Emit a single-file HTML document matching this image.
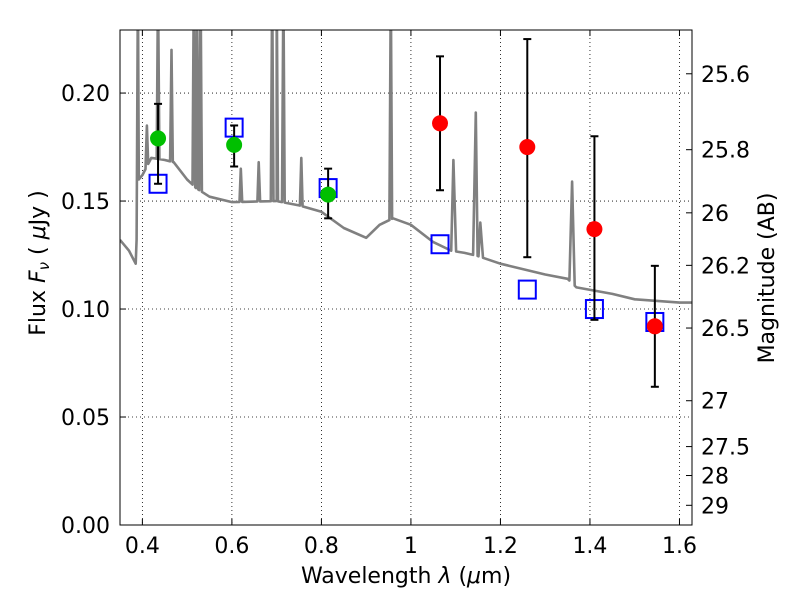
<!DOCTYPE html>
<html><head><meta charset="utf-8"><style>
body{margin:0;background:#fff;font-family:"Liberation Sans","DejaVu Sans",sans-serif}
svg text{font-family:"DejaVu Sans","Liberation Sans",sans-serif;font-size:22px;fill:#000}
</style></head><body>
<svg id="chart" width="800" height="600" xmlns="http://www.w3.org/2000/svg">
<defs><clipPath id="clip"><rect x="120" y="30" width="572" height="495"/></clipPath></defs>
<g id="grid"></g>
<g id="spec" clip-path="url(#clip)"></g>
<g id="marks" clip-path="url(#clip)"></g>
<rect x="120" y="30" width="572" height="495" fill="none" stroke="#000" stroke-width="1"/>
<g id="axes"></g>
<text x="406" y="583" text-anchor="middle">Wavelength  <tspan font-style="italic">λ</tspan> (<tspan font-style="italic">μ</tspan>m)</text>
<text transform="translate(45,263) rotate(-90)" text-anchor="middle">Flux  <tspan font-style="italic">F</tspan><tspan font-style="italic" font-size="15" dy="4">ν</tspan><tspan dy="-4">  (  </tspan><tspan font-style="italic">μ</tspan>Jy )</text>
<text transform="translate(774,278) rotate(-90)" text-anchor="middle">Magnitude (AB)</text>
</svg>
<script>
const xTicks=[0.4,0.6,0.8,1.0,1.2,1.4,1.6];
const xTickLabels=["0.4","0.6","0.8","1","1.2","1.4","1.6"];
const yTicks=[0,0.05,0.10,0.15,0.20];
const yTickLabels=["0.00","0.05","0.10","0.15","0.20"];
const magTicks=[25.6,25.8,26,26.2,26.5,27,27.5,28,29];
const magLabels=["25.6","25.8","26","26.2","26.5","27","27.5","28","29"];
const contX=[0.35,0.37,0.385,0.392,0.40,0.42,0.45,0.47,0.50,0.52,0.55,0.60,0.70,0.75,0.80,0.85,0.90,0.93,0.96,1.00,1.05,1.09,1.12,1.15,1.20,1.30,1.35,1.37,1.45,1.50,1.60,1.63];
const contY=[0.132,0.127,0.121,0.160,0.162,0.170,0.169,0.168,0.160,0.156,0.152,0.1495,0.150,0.148,0.145,0.1375,0.133,0.139,0.142,0.139,0.131,0.127,0.126,0.1245,0.121,0.116,0.114,0.110,0.107,0.1045,0.103,0.103];
const lineX=[0.39,0.41,0.435,0.465,0.515,0.522,0.53,0.62,0.66,0.69,0.70,0.715,0.755,0.955,1.095,1.145,1.155,1.36];
const linePeak=[0.25,0.185,0.25,0.22,0.25,0.25,0.25,0.165,0.168,0.25,0.25,0.25,0.17,0.25,0.169,0.191,0.14,0.159];
const greenX=[0.435,0.605,0.815];
const greenY=[0.179,0.176,0.153];
const greenLo=[0.158,0.166,0.142];
const greenHi=[0.195,0.185,0.165];
const redX=[1.065,1.26,1.41,1.545];
const redY=[0.186,0.175,0.137,0.092];
const redLo=[0.155,0.124,0.095,0.064];
const redHi=[0.217,0.225,0.180,0.120];
const modelX=[0.435,0.605,0.815,1.065,1.26,1.41,1.545];
const modelY=[0.158,0.184,0.156,0.130,0.109,0.100,0.094];

const X0=120,X1=692,Y0=525,Y1=30,xmin=0.35,xmax=1.628,ymin=0,ymax=0.2292;
const sx=v=>X0+(v-xmin)/(xmax-xmin)*(X1-X0);
const sy=v=>Y0-(v-ymin)/(ymax-ymin)*(Y0-Y1);
const ns="http://www.w3.org/2000/svg";
function mk(tag,parent,attrs){const e=document.createElementNS(ns,tag);for(const k in attrs)e.setAttribute(k,attrs[k]);document.getElementById(parent).appendChild(e);return e;}
xTicks.forEach((t,i)=>{const x=sx(t);
 let g=mk('line','grid',{x1:x,x2:x,y1:Y1,y2:Y0,stroke:'#000','stroke-dasharray':'1,3','stroke-width':0.8});
 
 mk('line','axes',{x1:x,x2:x,y1:Y0,y2:Y0-6,stroke:'#000'});
 mk('line','axes',{x1:x,x2:x,y1:Y1,y2:Y1+6,stroke:'#000'});
 let tx=mk('text','axes',{x:x,y:Y0+28,'text-anchor':'middle'});tx.textContent=xTickLabels[i];
 });
yTicks.forEach((t,i)=>{const y=sy(t);
 let g=mk('line','grid',{x1:X0,x2:X1,y1:y,y2:y,stroke:'#000','stroke-dasharray':'1,3','stroke-width':0.8});
 
 mk('line','axes',{x1:X0,x2:X0+6,y1:y,y2:y,stroke:'#000'});
 let tx=mk('text','axes',{x:X0-10,y:y+8,'text-anchor':'end'});tx.textContent=yTickLabels[i];
 });
magTicks.forEach((m,i)=>{const y=sy(Math.pow(10,(23.9-m)/2.5));
 mk('line','axes',{x1:X1,x2:X1-6,y1:y,y2:y,stroke:'#000'});
 let tx=mk('text','axes',{x:X1+9,y:y+8,'text-anchor':'start'});tx.textContent=magLabels[i];
 });
function cont(x){for(let i=0;i<contX.length-1;i++){if(x<=contX[i+1]){const f=(x-contX[i])/(contX[i+1]-contX[i]);return contY[i]+f*(contY[i+1]-contY[i]);}}return contY[contY.length-1];}
let pts=contX.map((x,i)=>[x,contY[i]]);
lineX.forEach((x,i)=>{const w=x>1?0.006:0.003;pts.push([x-w,cont(x-w)],[x,linePeak[i]],[x+w,cont(x+w)]);});
pts.sort((a,b)=>a[0]-b[0]);
const sp=mk('path','spec',{d:'M'+pts.map(p=>sx(p[0]).toFixed(1)+','+sy(p[1]).toFixed(1)).join('L'),fill:'none',stroke:'#808080','stroke-width':2.6,'stroke-linejoin':'round'});

function err(x,lo,hi){const X=sx(x);
 const l=mk('line','marks',{x1:X,x2:X,y1:sy(lo),y2:sy(hi),stroke:'#000','stroke-width':2});
 
 mk('line','marks',{x1:X-4,x2:X+4,y1:sy(lo),y2:sy(lo),stroke:'#000','stroke-width':2});
 mk('line','marks',{x1:X-4,x2:X+4,y1:sy(hi),y2:sy(hi),stroke:'#000','stroke-width':2});}
modelX.forEach((x,i)=>{const r=mk('rect','marks',{x:sx(x)-8.5,y:sy(modelY[i])-9,width:17,height:18,fill:'none',stroke:'#0000ff','stroke-width':2});
 });
greenX.forEach((x,i)=>{err(x,greenLo[i],greenHi[i]);
 const c=mk('circle','marks',{cx:sx(x),cy:sy(greenY[i]),r:8,fill:'#00bf00'});
 });
redX.forEach((x,i)=>{err(x,redLo[i],redHi[i]);
 const c=mk('circle','marks',{cx:sx(x),cy:sy(redY[i]),r:8,fill:'#ff0000'});
 });
</script>
</body></html>
